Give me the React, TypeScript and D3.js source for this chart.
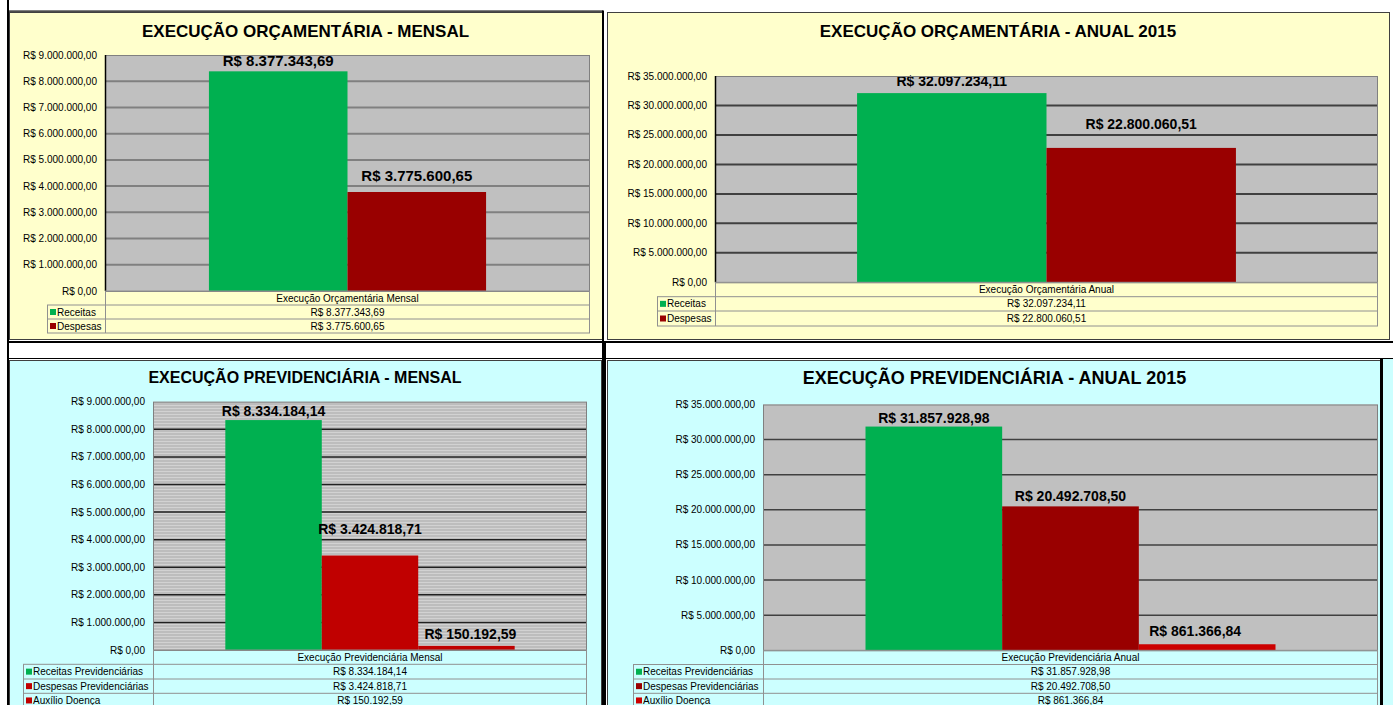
import React from "react";
import * as d3 from "d3";

// ---------- DATA ----------
const orcSeries = ["Receitas", "Despesas"];
const orcMensalValues = [8377343.69, 3775600.65];
const orcAnualValues = [32097234.11, 22800060.51];
const prevSeries = ["Receitas Previdenciárias", "Despesas Previdenciárias", "Auxílio Doença"];
const prevMensalValues = [8334184.14, 3424818.71, 150192.59];
const prevAnualValues = [31857928.98, 20492708.5, 861366.84];
const mensalTicks = [0, 1000000, 2000000, 3000000, 4000000, 5000000, 6000000, 7000000, 8000000, 9000000];
const anualTicks = [0, 5000000, 10000000, 15000000, 20000000, 25000000, 30000000, 35000000];
const chartTitles = [
  "EXECUÇÃO ORÇAMENTÁRIA - MENSAL",
  "EXECUÇÃO ORÇAMENTÁRIA - ANUAL 2015",
  "EXECUÇÃO PREVIDENCIÁRIA - MENSAL",
  "EXECUÇÃO PREVIDENCIÁRIA - ANUAL 2015",
];
const categories = [
  "Execução Orçamentária Mensal",
  "Execução Orçamentária Anual",
  "Execução Previdenciária Mensal",
  "Execução Previdenciária Anual",
];

// ---------- FORMAT ----------
const brl = d3
  .formatLocale({ decimal: ",", thousands: ".", grouping: [3], currency: ["R$ ", ""] })
  .format("$,.2f");

const FONT = "'Liberation Sans', Arial, Helvetica, sans-serif";

// ---------- LAYOUT / STYLE ----------
const panels = [
  {
    title: chartTitles[0], category: categories[0], series: orcSeries, values: orcMensalValues, ticks: mensalTicks,
    colors: ["#00B050", "#990000"],
    box: [9, 12, 602, 339], bg: "#FFFFCC", titleSize: 17, titleY: 36.7,
    left: 105, right: 590, top: 55, bottom: 291, tableLeft: 47, rows: [291, 305, 319, 333],
    grid: "#808080", gridW: 2, striped: false, axisDark: true,
    labelSize: 15, labelGap: [5, 11], labelDx: [0, 0],
  },
  {
    title: chartTitles[1], category: categories[1], series: orcSeries, values: orcAnualValues, ticks: anualTicks,
    colors: ["#00B050", "#990000"],
    box: [607, 12, 1389, 339], bg: "#FFFFCC", titleSize: 17, titleY: 36.7,
    left: 715, right: 1378, top: 76, bottom: 282.3, tableLeft: 657, rows: [282.3, 296.7, 311, 326],
    grid: "#404040", gridW: 2, striped: false, axisDark: true,
    labelSize: 14, labelGap: [7, 19], labelDx: [0, 0],
  },
  {
    title: chartTitles[2], category: categories[2], series: prevSeries, values: prevMensalValues, ticks: mensalTicks,
    colors: ["#00B050", "#C00000", "#C00000"],
    box: [9, 360, 601, 712], bg: "#CCFFFF", titleSize: 16, titleY: 383.3,
    left: 153, right: 587, top: 401.7, bottom: 650, tableLeft: 23, rows: [650, 664.3, 679, 693.3, 707.6],
    grid: "#202020", gridW: 1.5, striped: true, axisDark: false,
    labelSize: 14, labelGap: [4, 22, 7], labelDx: [0, 0, 4],
  },
  {
    title: chartTitles[3], category: categories[3], series: prevSeries, values: prevAnualValues, ticks: anualTicks,
    colors: ["#00B050", "#990000", "#CC0000"],
    box: [607, 360, 1382, 712], bg: "#CCFFFF", titleSize: 18, titleY: 384.3,
    left: 763, right: 1378, top: 404.5, bottom: 650.3, tableLeft: 633, rows: [650.3, 664.5, 679, 693.3, 707.6],
    grid: "#404040", gridW: 1.5, striped: false, axisDark: false,
    labelSize: 14, labelGap: [4, 5, 8], labelDx: [0, 0, -12],
  },
];

function Panel({ p }: { p: any }) {
  const max = p.ticks[p.ticks.length - 1];
  const y = d3.scaleLinear().domain([0, max]).range([p.bottom, p.top]);
  const x = d3.scaleBand<string>().domain(p.series).range([p.left, p.right]).paddingInner(0).paddingOuter(0.75);
  const [bx0, by0, bx1, by1] = p.box;
  const rows: number[] = p.rows;
  const last = rows[rows.length - 1];
  const mid = (p.left + p.right) / 2;
  return (
    <g fontFamily={FONT}>
      <rect x={bx0 + 0.5} y={by0 + 0.5} width={bx1 - bx0} height={by1 - by0} fill={p.bg} stroke="#404040" strokeWidth={1} />
      <text x={(bx0 + bx1) / 2} y={p.titleY} textAnchor="middle" fontSize={p.titleSize} fontWeight="bold" fill="#000">
        {p.title}
      </text>
      {/* plot area */}
      <rect x={p.left} y={p.top} width={p.right - p.left} height={p.bottom - p.top} fill={p.striped ? "url(#stripes)" : "#C0C0C0"} />
      {p.ticks.slice(1, -1).map((t: number) => (
        <line key={"g" + t} x1={p.left} x2={p.right} y1={y(t)} y2={y(t)} stroke={p.grid} strokeWidth={p.gridW} />
      ))}
      {p.ticks.map((t: number) => (
        <text key={"t" + t} x={p.left - 8} y={y(t) + 3.5} textAnchor="end" fontSize={10} fill="#000">
          {brl(t)}
        </text>
      ))}
      {p.series.map((s: string, i: number) => (
        <rect key={"b" + s} x={x(s)} y={y(p.values[i])} width={x.bandwidth()} height={p.bottom - y(p.values[i])} fill={p.colors[i]} />
      ))}
      {p.series.map((s: string, i: number) => (
        <text
          key={"l" + s}
          x={(x(s) as number) + x.bandwidth() / 2 + p.labelDx[i]}
          y={y(p.values[i]) - p.labelGap[i]}
          textAnchor="middle"
          fontSize={p.labelSize}
          fontWeight="bold"
          fill="#000"
        >
          {brl(p.values[i])}
        </text>
      ))}
      {/* plot border */}
      <rect x={p.left + 0.5} y={p.top + 0.5} width={p.right - p.left - 1} height={p.bottom - p.top} fill="none" stroke="#808080" strokeWidth={1} />
      {p.axisDark && <line x1={p.left + 0.5} x2={p.left + 0.5} y1={p.top} y2={p.bottom} stroke="#000" strokeWidth={1.5} />}
      {/* data table */}
      <text x={mid} y={(rows[0] + rows[1]) / 2 + 3.5} textAnchor="middle" fontSize={10} fill="#000">
        {p.category}
      </text>
      {rows.slice(1).map((r: number) => (
        <line key={"r" + r} x1={p.tableLeft} x2={p.right} y1={r} y2={r} stroke="#909090" strokeWidth={1} />
      ))}
      <line x1={p.left} x2={p.right} y1={rows[0]} y2={rows[0]} stroke="#909090" strokeWidth={1} />
      <line x1={p.left + 0.5} x2={p.left + 0.5} y1={rows[0]} y2={last} stroke="#909090" strokeWidth={1} />
      <line x1={p.right - 0.5} x2={p.right - 0.5} y1={rows[0]} y2={last} stroke="#909090" strokeWidth={1} />
      <line x1={p.tableLeft + 0.5} x2={p.tableLeft + 0.5} y1={rows[1]} y2={last} stroke="#909090" strokeWidth={1} />
      {p.series.map((s: string, i: number) => {
        const cy = (rows[i + 1] + rows[i + 2]) / 2;
        return (
          <g key={"row" + s}>
            <rect x={p.tableLeft + 3} y={cy - 3} width={6} height={6} fill={p.colors[i]} />
            <text x={p.tableLeft + 10} y={cy + 3.5} fontSize={10} fill="#000">{s}</text>
            <text x={mid} y={cy + 3.5} textAnchor="middle" fontSize={10} fill="#000">{brl(p.values[i])}</text>
          </g>
        );
      })}
    </g>
  );
}

export default function App() {
  return (
    <svg width={1393} height={705} style={{ position: "absolute", left: 0, top: 0, background: "#fff" }}>
      <defs>
        <pattern id="stripes" width={4} height={3} patternUnits="userSpaceOnUse">
          <rect width={4} height={3} fill="#BDBDBD" />
          <rect width={4} height={1} fill="#D2D2D2" />
        </pattern>
      </defs>
      <rect width={1393} height={705} fill="#fff" />
      {/* bottom-right outer cyan strip */}
      <rect x={1382} y={359} width={11} height={346} fill="#CCFFFF" />
      {panels.map((p, i) => (
        <Panel key={i} p={p} />
      ))}
      {/* sheet separators */}
      <rect x={7} y={0} width={2} height={705} fill="#000" />
      <rect x={8} y={10.5} width={595} height={1.2} fill="#000" />
      <rect x={602} y={10.5} width={2} height={332} fill="#000" />
      <rect x={8} y={341} width={1385} height={2} fill="#000" />
      <rect x={8} y={358} width={1385} height={1} fill="#000" />
      <rect x={602} y={343} width={4} height={362} fill="#000" />
      <rect x={1380} y={359} width={3} height={346} fill="#000" />
    </svg>
  );
}
